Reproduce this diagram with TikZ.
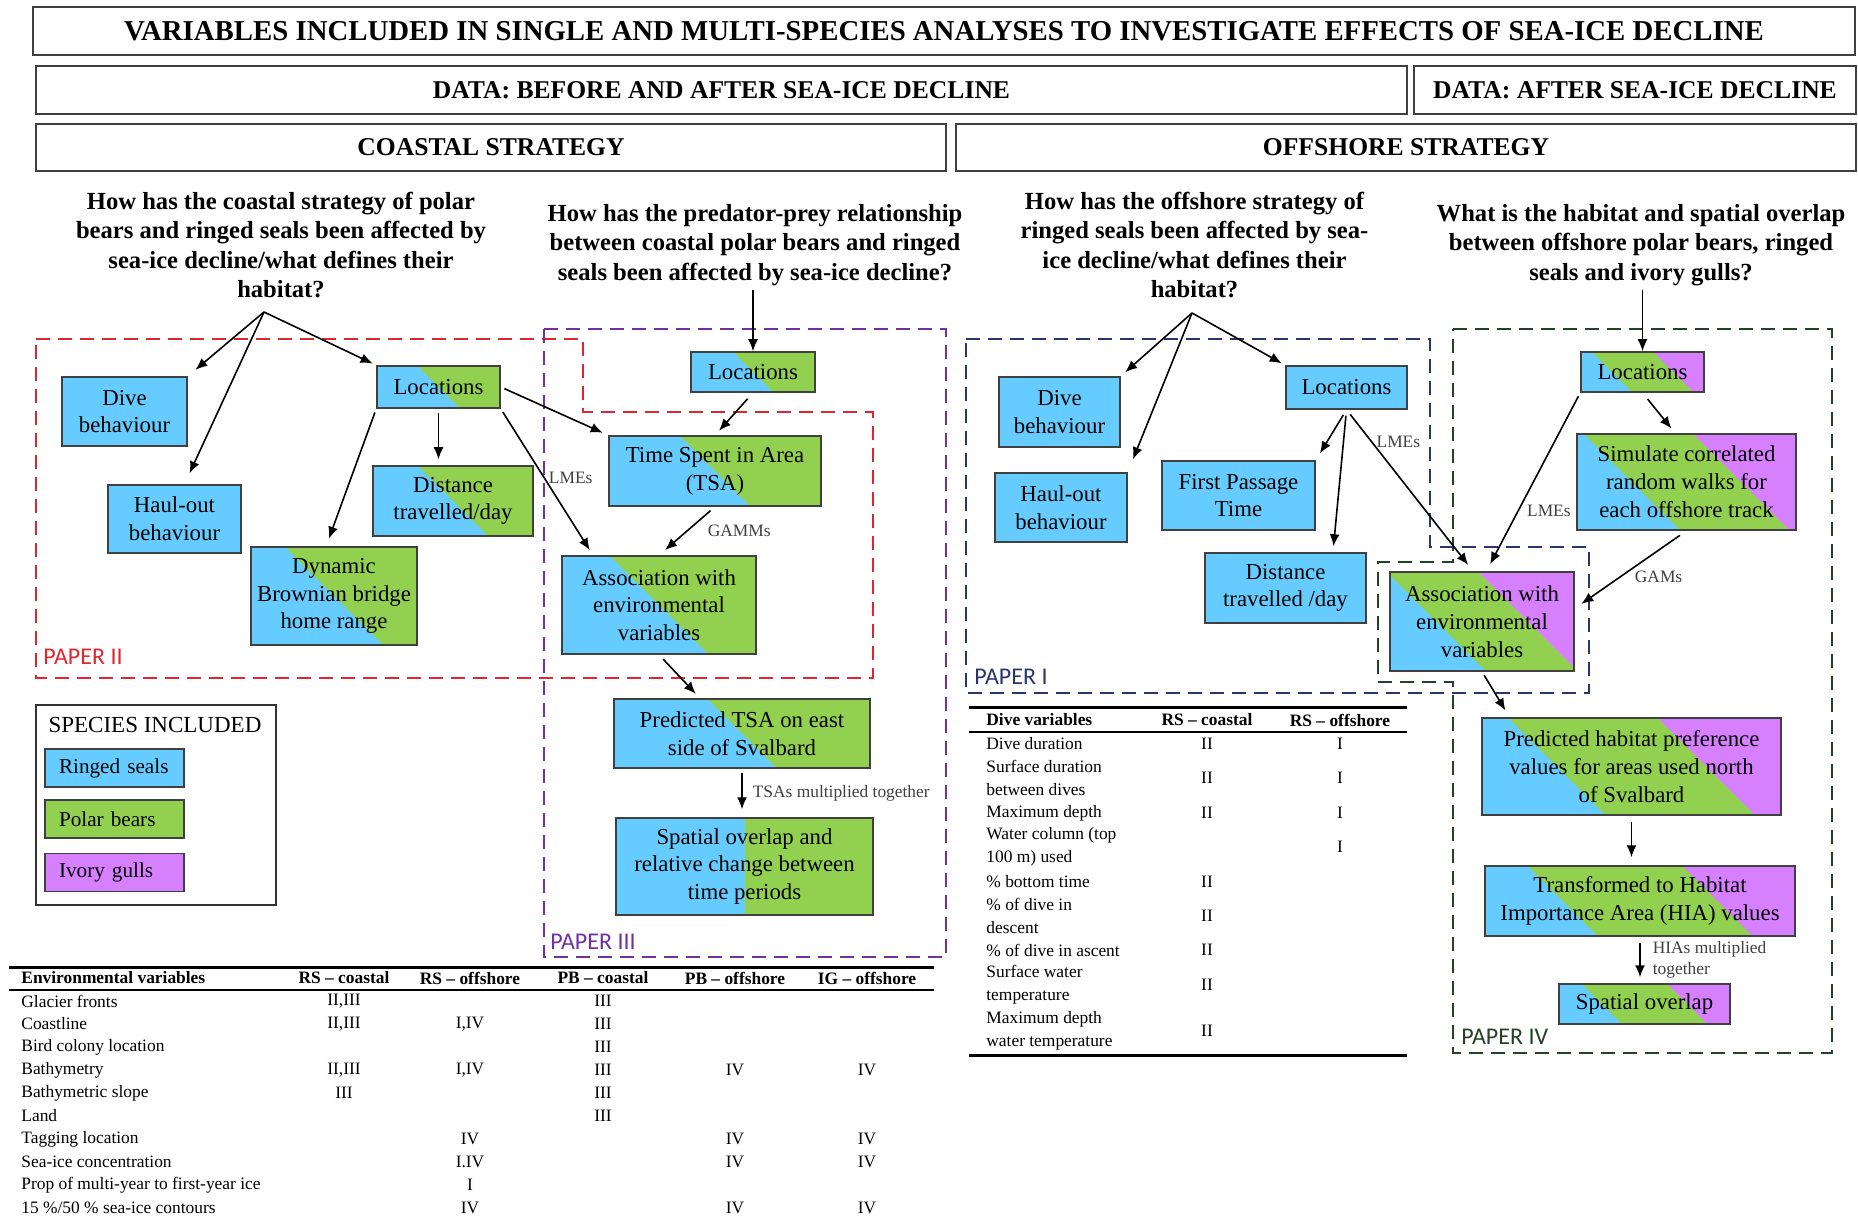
\documentclass[tikz,border=0pt]{standalone}
\usepackage{fontspec}
\setmainfont{Liberation Serif}
\newfontfamily\paperfont{Carlito}
\usetikzlibrary{positioning, calc, arrows.meta}

\definecolor{rsblue}{RGB}{102,204,255}
\definecolor{pbgreen}{RGB}{146,208,80}
\definecolor{igpurple}{RGB}{214,128,255}
\definecolor{paperIIcol}{RGB}{222,38,46}
\definecolor{paperIIIcol}{RGB}{112,48,160}
\definecolor{paperIcol}{RGB}{40,54,110}
\definecolor{paperIVcol}{RGB}{38,66,38}

\newcommand{\sz}[2]{\fontsize{#1}{#2}\selectfont}

\begin{document}
\begin{tikzpicture}[%
  x = .5pt, y = -.5pt,
  header/.style   = {draw=black!75, line width=1pt, inner sep=0pt,
                     font=\sz{12.8}{15}\bfseries},
  question/.style = {align=center, inner sep=2pt,
                     font=\sz{12.3}{14.8}\bfseries},
  box/.style      = {draw=black!75, line width=.75pt, align=center,
                     inner sep=2pt, font=\sz{11.4}{13.9}},
  rs/.style       = {box, fill=rsblue},
  rspb/.style     = {box, path picture={
                       \fill[rsblue] (path picture bounding box.south west)
                         rectangle (path picture bounding box.north east);
                       \fill[pbgreen]
                         ($(path picture bounding box.center)+(-300pt,300pt)$) --
                         ($(path picture bounding box.center)+(300pt,-300pt)$) --
                         ($(path picture bounding box.center)+(300pt,300pt)$) -- cycle;}},
  rspbhalf/.style = {box, path picture={
                       \fill[rsblue] (path picture bounding box.south west)
                         rectangle (path picture bounding box.north);
                       \fill[pbgreen] (path picture bounding box.south)
                         rectangle (path picture bounding box.north east);}},
  rspbig/.style   = {box, path picture={
                       \fill[rsblue] (path picture bounding box.south west)
                         rectangle (path picture bounding box.north east);
                       \fill[pbgreen]
                         ($(path picture bounding box.west)!.5!(path picture bounding box.center)+(-300pt,300pt)$) --
                         ($(path picture bounding box.west)!.5!(path picture bounding box.center)+(300pt,-300pt)$) --
                         ($(path picture bounding box.west)!.5!(path picture bounding box.center)+(300pt,300pt)$) -- cycle;
                       \fill[igpurple]
                         ($(path picture bounding box.east)!.5!(path picture bounding box.center)+(-300pt,300pt)$) --
                         ($(path picture bounding box.east)!.5!(path picture bounding box.center)+(300pt,-300pt)$) --
                         ($(path picture bounding box.east)!.5!(path picture bounding box.center)+(300pt,300pt)$) -- cycle;}},
  lbl/.style      = {font=\sz{8.7}{10.5}, text=black!75, inner sep=2pt},
  arr/.style      = {-{Latex[length=6pt, width=5pt]}, line width=.8pt},
  paper/.style    = {line width=1.4pt, dash pattern=on 7pt off 4pt},
  papertag/.style = {anchor=west, font=\paperfont\sz{12}{14}, inner sep=2pt},
  legbox/.style   = {draw=black!75, line width=.75pt, align=left,
                     text width=55.5pt, inner xsep=7pt, minimum height=19pt,
                     font=\sz{10.6}{12}},
  thead/.style    = {font=\sz{8.7}{10}\bfseries, inner sep=2pt},
  tcell/.style    = {font=\sz{8.7}{11.3}, inner sep=2pt, align=left}
]
  \useasboundingbox (0,0) rectangle (1858,1219);

  % headings
  \node[header, minimum width=911pt, minimum height=24pt,
        font=\sz{14.4}{16}\bfseries] (title) at (944,31)
       {VARIABLES INCLUDED IN SINGLE AND MULTI-SPECIES ANALYSES TO INVESTIGATE EFFECTS OF SEA-ICE DECLINE};
  \node[header, minimum width=685.5pt, minimum height=24pt] (before) at (721.5,90)
       {DATA: BEFORE AND AFTER SEA-ICE DECLINE};
  \node[header, minimum width=221pt, minimum height=24pt] (after) at (1635,90)
       {DATA: AFTER SEA-ICE DECLINE};
  \node[header, minimum width=455pt, minimum height=23.5pt] (coastal) at (491,147.5)
       {COASTAL STRATEGY};
  \node[header, minimum width=450pt, minimum height=23.5pt] (offshore) at (1406,147.5)
       {OFFSHORE STRATEGY};

  % questions
  \node[question] (q1) at (281,245) {How has the coastal strategy of polar\\
       bears and ringed seals been affected by\\ sea-ice decline/what defines their\\ habitat?};
  \node[question] (q2) at (755,245) {How has the predator-prey relationship\\
       between coastal polar bears and ringed\\ seals been affected by sea-ice decline?};
  \node[question] (q3) at (1194.5,245) {How has the offshore strategy of\\
       ringed seals been affected by sea-\\ ice decline/what defines their\\ habitat?};
  \node[question] (q4) at (1641,245) {What is the habitat and spatial overlap\\
       between offshore polar bears, ringed\\ seals and ivory gulls?};
  \coordinate (q1tip) at (264,312);
  \coordinate (q3tip) at (1192,313);

  % paper frames
  \draw[paper, paperIIcol] (36,339) -- (583,339) -- (583,412) -- (873,412)
       -- (873,678) -- (36,678) -- cycle;
  \draw[paper, paperIIIcol] (544,329) rectangle (946,957);
  \draw[paper, paperIcol] (966,339) -- (1430,339) -- (1430,547) -- (1589,547)
       -- (1589,693) -- (966,693) -- cycle;
  \draw[paper, paperIVcol] (1453,329) -- (1832,329) -- (1832,1053) -- (1453,1053)
       -- (1453,682) -- (1378,682) -- (1378,562) -- (1453,562) -- cycle;

  \node[papertag, text=paperIIcol]  (tagII)  at (39,657)   {PAPER II};
  \node[papertag, text=paperIIIcol] (tagIII) at (546,942)  {PAPER III};
  \node[papertag, text=paperIcol]   (tagI)   at (970,677)  {PAPER I};
  \node[papertag, text=paperIVcol]  (tagIV)  at (1457,1037) {PAPER IV};

  % paper II
  \node[rs, minimum width=62.5pt, minimum height=34.5pt] (dive2) at (124.5,411.5) {Dive\\ behaviour};
  \node[rs, minimum width=66.5pt, minimum height=34pt] (haul2) at (174.5,519) {Haul-out\\ behaviour};
  \node[rspb, minimum width=61.5pt, minimum height=21pt] (loc2) at (438.5,387) {Locations};
  \node[rspb, minimum width=80pt, minimum height=35pt] (dist2) at (453,501) {Distance\\ travelled/day};
  \node[rspb, minimum width=83pt, minimum height=49pt] (dbbmm) at (334,596)
       {Dynamic\\ Brownian bridge\\ home range};

  % paper III
  \node[rspb, minimum width=62pt, minimum height=20pt] (loc3) at (753,372) {Locations};
  \node[rspb, minimum width=106pt, minimum height=35pt] (tsa) at (715,471) {Time Spent in Area\\ (TSA)};
  \node[rspb, minimum width=97pt, minimum height=49pt] (assoc3) at (659,605)
       {Association with\\ environmental\\ variables};
  \node[rspb, minimum width=128pt, minimum height=34.5pt] (pred3) at (742,733.5)
       {Predicted TSA on east\\ side of Svalbard};
  \node[rspbhalf, minimum width=128.5pt, minimum height=48.5pt] (overlap3) at (744.5,866.5)
       {Spatial overlap and\\ relative change between\\ time periods};

  % paper I
  \node[rs, minimum width=60.5pt, minimum height=35pt] (dive1) at (1059.5,412) {Dive\\ behaviour};
  \node[rs, minimum width=66pt, minimum height=34.5pt] (haul1) at (1061,507.5) {Haul-out\\ behaviour};
  \node[rs, minimum width=60.5pt, minimum height=21.5pt] (loc1) at (1346.5,387.5) {Locations};
  \node[rs, minimum width=76.5pt, minimum height=34.5pt] (fpt) at (1238.5,495.5) {First Passage\\ Time};
  \node[rs, minimum width=80.5pt, minimum height=35pt] (dist1) at (1285.5,588) {Distance\\ travelled /day};

  % paper IV
  \node[rspbig, minimum width=61.5pt, minimum height=20pt] (loc4) at (1642.5,372) {Locations};
  \node[rspbig, minimum width=109.5pt, minimum height=48pt] (crw) at (1686.5,482)
       {Simulate correlated\\ random walks for\\ each offshore track};
  \node[rspbig, minimum width=92pt, minimum height=49.5pt] (assoc4) at (1482,621.5)
       {Association with\\ environmental\\ variables};
  \node[rspbig, minimum width=149.5pt, minimum height=48.5pt] (pred4) at (1631.5,766.5)
       {Predicted habitat preference\\ values for areas used north\\ of Svalbard};
  \node[rspbig, minimum width=155pt, minimum height=35pt] (hia) at (1640,901)
       {Transformed to Habitat\\ Importance Area (HIA) values};
  \node[rspbig, minimum width=85.5pt, minimum height=20pt] (overlap4) at (1644.5,1004) {Spatial overlap};

  % data flows, coastal
  \draw[arr, shorten >=5pt] (q1tip) -- (dive2.north east);
  \draw[arr, shorten >=6pt] (q1tip) -- (haul2.74);
  \draw[arr, shorten >=2pt] (q1tip) -- (loc2.north west);
  \draw[arr, shorten <=2pt, shorten >=3pt] (loc2.south) -- (loc2.south |- dist2.north);
  \draw[arr, shorten <=2pt, shorten >=4pt] (loc2.south west) -- (dbbmm.99);
  \draw[arr, shorten <=2pt, shorten >=3pt] (loc2.east) -- (tsa.north west);
  \draw[arr, shorten <=2pt, shorten >=3pt] (loc2.south east)
       -- node[lbl, pos=.47, right] (lmes2) {LMEs} (assoc3.143);
  \draw[arr] (loc3.north |- q2.south) -- (loc3.north);
  \draw[arr, shorten <=4pt, shorten >=3pt] (loc3.south) -- (tsa.north);
  \draw[arr, shorten <=3pt, shorten >=4pt] (tsa.south)
       -- node[lbl, pos=.5, right=8pt] (gamms) {GAMMs} (assoc3.north);
  \draw[arr, shorten <=3pt, shorten >=3pt] (assoc3.south) -- (pred3.140);
  \draw[arr, shorten <=2pt, shorten >=4pt] (pred3.south)
       -- node[lbl, right=3pt] (tsamult) {TSAs multiplied together} (pred3.south |- overlap3.north);

  % data flows, offshore
  \draw[arr, shorten >=3pt] (q3tip) -- (dive1.north east);
  \draw[arr, shorten >=7pt] (q3tip) -- (haul1.north east);
  \draw[arr, shorten >=2pt] (q3tip) -- (loc1.north west);
  \draw[arr, shorten <=3pt, shorten >=4pt] (loc1.south) -- (fpt.north east);
  \draw[arr, shorten <=3pt, shorten >=3pt] (loc1.south) -- (dist1.37);
  \draw[arr, shorten <=3pt, shorten >=4pt] (loc1.south)
       -- node[lbl, pos=.2, right] (lmes1) {LMEs} (assoc4.100);
  \draw[arr] (loc4.north |- q4.south) -- (loc4.north);
  \draw[arr, shorten <=4pt, shorten >=3pt] (loc4.south) -- (crw.103);
  \draw[arr, shorten <=2pt, shorten >=4pt] (loc4.south west)
       -- node[lbl, pos=.66, right=2pt] (lmes4) {LMEs} (assoc4.85);
  \draw[arr, shorten <=4pt, shorten >=4pt] (crw.south)
       -- node[lbl, pos=.25, below=8pt] (gams) {GAMs} (assoc4.8);
  \draw[arr, shorten <=2pt, shorten >=4pt] (assoc4.south) -- (pred4.158);
  \draw[arr, shorten <=3pt, shorten >=4pt] (pred4.south) -- (pred4.south |- hia.north);
  \draw[arr, shorten <=3pt, shorten >=3pt] (hia.south)
       -- node[lbl, right=4pt, align=left] (hiamult) {HIAs multiplied\\ together} (hia.south |- overlap4.north);

  % legend
  \node[draw=black!80, line width=1pt, minimum width=120pt, minimum height=100pt] (legend) at (156,805) {};
  \node[font=\sz{11.5}{13}] (legendtitle) at (155,725) {SPECIES INCLUDED};
  \node[legbox, fill=rsblue]   (legrs) at (114.5,768)   {Ringed seals};
  \node[legbox, fill=pbgreen]  (legpb) at (114.5,819)   {Polar bears};
  \node[legbox, fill=igpurple] (legig) at (114.5,872.5) {Ivory gulls};

  % environmental variables table
  \draw[line width=1.5pt] (9,967) -- (934,967);
  \draw[line width=.8pt] (9,990) -- (934,990);
  \node[thead, anchor=west] (envhead) at (17,978) {Environmental variables};
  \foreach \cx/\ct [count=\c] in {344/RS – coastal, 470/RS – offshore, 603/PB – coastal,
                                  735/PB – offshore, 867/IG – offshore}
    \node[thead] (envhead\c) at (\cx,978) {\ct};
  \foreach \v/\a/\b/\p/\q/\g [count=\r] in {
      Glacier fronts/{II,III}/{}/III/{}/{},
      Coastline/{II,III}/{I,IV}/III/{}/{},
      Bird colony location/{}/{}/III/{}/{},
      Bathymetry/{II,III}/{I,IV}/III/IV/IV,
      Bathymetric slope/III/{}/III/{}/{},
      Land/{}/{}/III/{}/{},
      Tagging location/{}/IV/{}/IV/IV,
      Sea-ice concentration/{}/I.IV/{}/IV/IV,
      Prop of multi-year to first-year ice/{}/I/{}/{}/{},
      {15 \%\slash 50 \% sea-ice contours}/{}/IV/{}/IV/IV}
  {
    \node[tcell, anchor=west] (env\r) at (17,978+23*\r) {\v};
    \node[tcell] (env\r-a) at (344,978+23*\r) {\a};
    \node[tcell] (env\r-b) at (470,978+23*\r) {\b};
    \node[tcell] (env\r-c) at (603,978+23*\r) {\p};
    \node[tcell] (env\r-d) at (735,978+23*\r) {\q};
    \node[tcell] (env\r-e) at (867,978+23*\r) {\g};
  }

  % dive variables table
  \draw[line width=1.5pt] (969,707) -- (1407,707);
  \draw[line width=.8pt] (969,732) -- (1407,732);
  \draw[line width=1.5pt] (969,1055) -- (1407,1055);
  \node[thead, anchor=west] (divehead) at (982,720) {Dive variables};
  \node[thead] (divehead1) at (1207,720) {RS – coastal};
  \node[thead] (divehead2) at (1340,720) {RS – offshore};
  \foreach \y/\v/\a/\b [count=\r] in {
      744/Dive duration/II/I,
      778/{Surface duration\\ between dives}/II/I,
      813/Maximum depth/II/I,
      847/{Water column (top\\ 100 m) used}/{}/I,
      882/{\% bottom time}/II/{},
      916/{\% of dive in\\ descent}/II/{},
      950/{\% of dive in ascent}/II/{},
      985/{Surface water\\ temperature}/II/{},
      1031/{Maximum depth\\ water temperature}/II/{}}
  {
    \node[tcell, anchor=west] (dive\r) at (982,\y) {\v};
    \node[tcell] (dive\r-a) at (1207,\y) {\a};
    \node[tcell] (dive\r-b) at (1340,\y) {\b};
  }

\end{tikzpicture}
\end{document}
